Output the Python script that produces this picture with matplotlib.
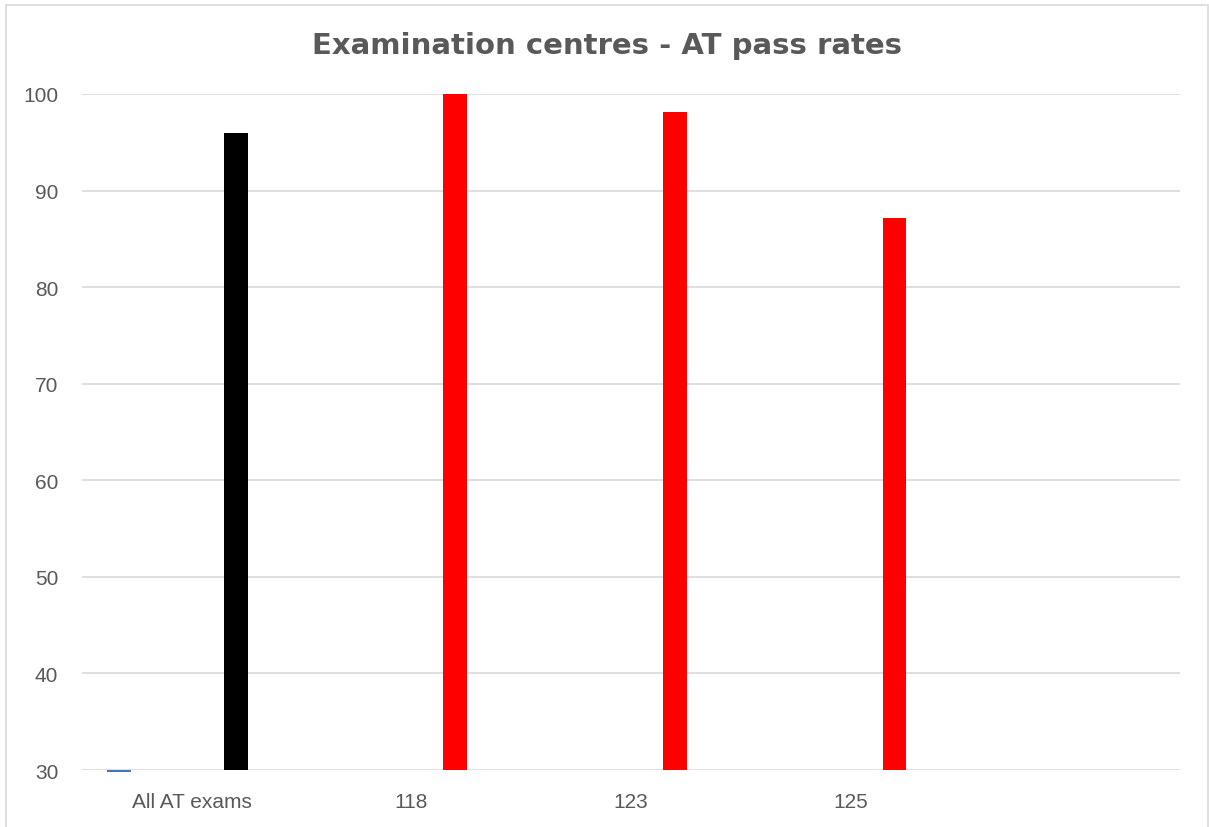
import numpy as np
import matplotlib.pyplot as plt
from matplotlib.patches import Rectangle

# ============ Data ============
categories = ['All AT exams', '118', '123', '125', '']
blue_values = [29.8, None, None, None, None]
pass_rates = [96.0, 100.0, 98.1, 87.2, None]
bar_colors = ['#000000', '#FF0000', '#FF0000', '#FF0000', '#FF0000']
y_ticks = [30, 40, 50, 60, 70, 80, 90, 100]

title = 'Examination centres - AT pass rates'
axis_min = 30

# ============ Plot ============
fig = plt.figure(figsize=(12.09, 8.28), dpi=100)
ax = fig.add_axes([0.0678, 0.0688, 0.9082, 0.8165])

x = np.arange(len(categories)) + 0.5
bar_w = 0.108

for xi, v in zip(x, blue_values):
    if v is not None:
        ax.bar(xi - 0.33, v - axis_min, bottom=axis_min, width=bar_w,
               color='#4472C4', clip_on=False, zorder=3)

for xi, v, c in zip(x, pass_rates, bar_colors):
    if v is not None:
        ax.bar(xi + 0.2, v - axis_min, bottom=axis_min, width=bar_w,
               color=c, zorder=3)

ax.set_xlim(0, len(categories))
ax.set_ylim(axis_min, 100)
ax.set_yticks(y_ticks)
ax.set_xticks(x)
ax.set_xticklabels(categories)
ax.yaxis.grid(True, color='#D9D9D9', linewidth=1.2)
ax.set_axisbelow(True)
for s in ax.spines.values():
    s.set_visible(False)

ax.tick_params(axis='both', length=0, labelsize=15, labelcolor='#595959')
ax.tick_params(axis='y', pad=17)
ax.tick_params(axis='x', pad=16)
for lab in ax.get_xticklabels() + ax.get_yticklabels():
    lab.set_family('Liberation Sans')

fig.text(0.502, 0.944, title, ha='center', va='center', fontsize=21,
         fontweight='bold', color='#595959', family='DejaVu Sans')

# chart border
fig.patches.append(Rectangle((6 / 1209, -0.05), 1202 / 1209, 0.05 + 822 / 828,
                             transform=fig.transFigure, fill=False,
                             edgecolor='#D9D9D9', linewidth=1.2))

fig.savefig('out.png', dpi=100)
